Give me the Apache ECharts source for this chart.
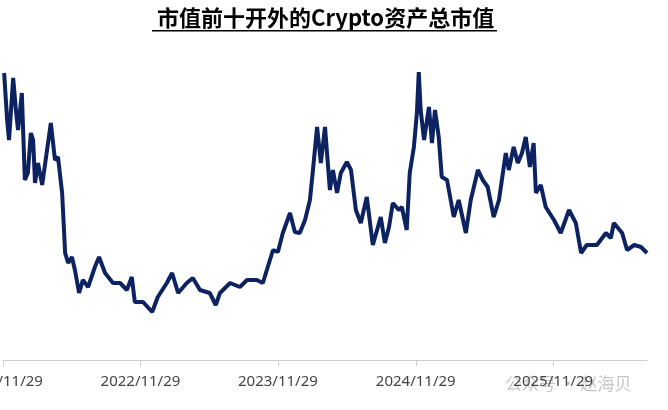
<!DOCTYPE html>
<html>
<head>
<meta charset="utf-8">
<script src="https://cdn.jsdelivr.net/npm/echarts@6/dist/echarts.min.js"></script>
<style>body{margin:0;background:#fff}#main{width:668px;height:410px}</style>
</head>
<body>
<div id="main"></div>
<script>
// days since 2021/11/29
var days = [3,11,16,27,35,40,50,58,66,74,80,85,93,104,117,127,138,146,157,165,173,183,191,202,212,226,244,255,271,292,311,329,342,350,372,396,411,435,449,465,488,504,523,549,565,576,603,629,648,674,690,703,717,730,743,762,775,788,802,815,823,834,844,855,868,876,879,887,897,913,924,937,950,966,982,1003,1014,1025,1035,1051,1059,1072,1080,1091,1099,1104,1109,1118,1131,1139,1147,1157,1165,1179,1197,1210,1229,1242,1261,1274,1287,1303,1317,1335,1343,1356,1367,1378,1388,1399,1409,1415,1428,1441,1463,1481,1503,1521,1535,1550,1577,1601,1614,1622,1644,1657,1676,1694,1710]
var values = [287,240,220,282,247,230,267,180,187,227,220,177,197,175,210,237,200,203,167,107,97,103,90,67,80,73,93,103,87,77,77,70,83,58,58,48,63,77,87,67,77,82,70,67,55,67,77,73,80,80,77,93,110,108,127,147,128,127,140,160,190,233,197,233,170,190,190,167,187,198,190,150,137,163,115,143,117,133,157,150,153,130,187,213,247,288,250,220,253,217,250,223,183,180,143,160,127,160,190,180,173,143,160,207,190,213,197,207,223,193,217,167,175,153,140,127,150,137,107,115,115,127,122,137,127,110,115,113,107]
var tickDays = [0,365,730,1096,1461]
var tickLabels = ['2021/11/29','2022/11/29','2023/11/29','2024/11/29','2025/11/29']

var data = days.map(function(d,i){return [d,values[i]]})
var chart = echarts.init(document.getElementById('main'))
chart.setOption({
  animation:false,
  title:{text:'市值前十开外的Crypto资产总市值',left:152,top:2,
    textStyle:{fontFamily:'Noto Sans CJK SC',fontSize:22,fontWeight:'bold',color:'#000'}},
  graphic:[
    {type:'rect',shape:{x:152,y:30,width:345,height:1.5},style:{fill:'#000'}},
    {type:'text',left:505,top:375,style:{text:'公众号 · 赵海贝',fontSize:17,fill:'rgba(150,150,150,0.55)',fontFamily:'Noto Sans CJK SC'}}
  ],
  grid:{left:3,right:21,top:60,bottom:50,outerBoundsMode:'none',containLabel:false},
  xAxis:{type:'value',min:0,max:1710,splitLine:{show:false},
    axisLine:{lineStyle:{color:'#ccc'}},
    axisTick:{customValues:tickDays,length:6,lineStyle:{color:'#ccc'}},
    axisLabel:{customValues:tickDays,color:'#444',fontSize:15,margin:14,fontFamily:'Noto Sans',
      formatter:function(v){return tickLabels[tickDays.indexOf(v)]}}},
  yAxis:{type:'value',min:0,max:300,show:false},
  series:[{type:'line',data:data,showSymbol:false,lineStyle:{color:'#0d2260',width:4}}]
})
</script>
</body>
</html>
